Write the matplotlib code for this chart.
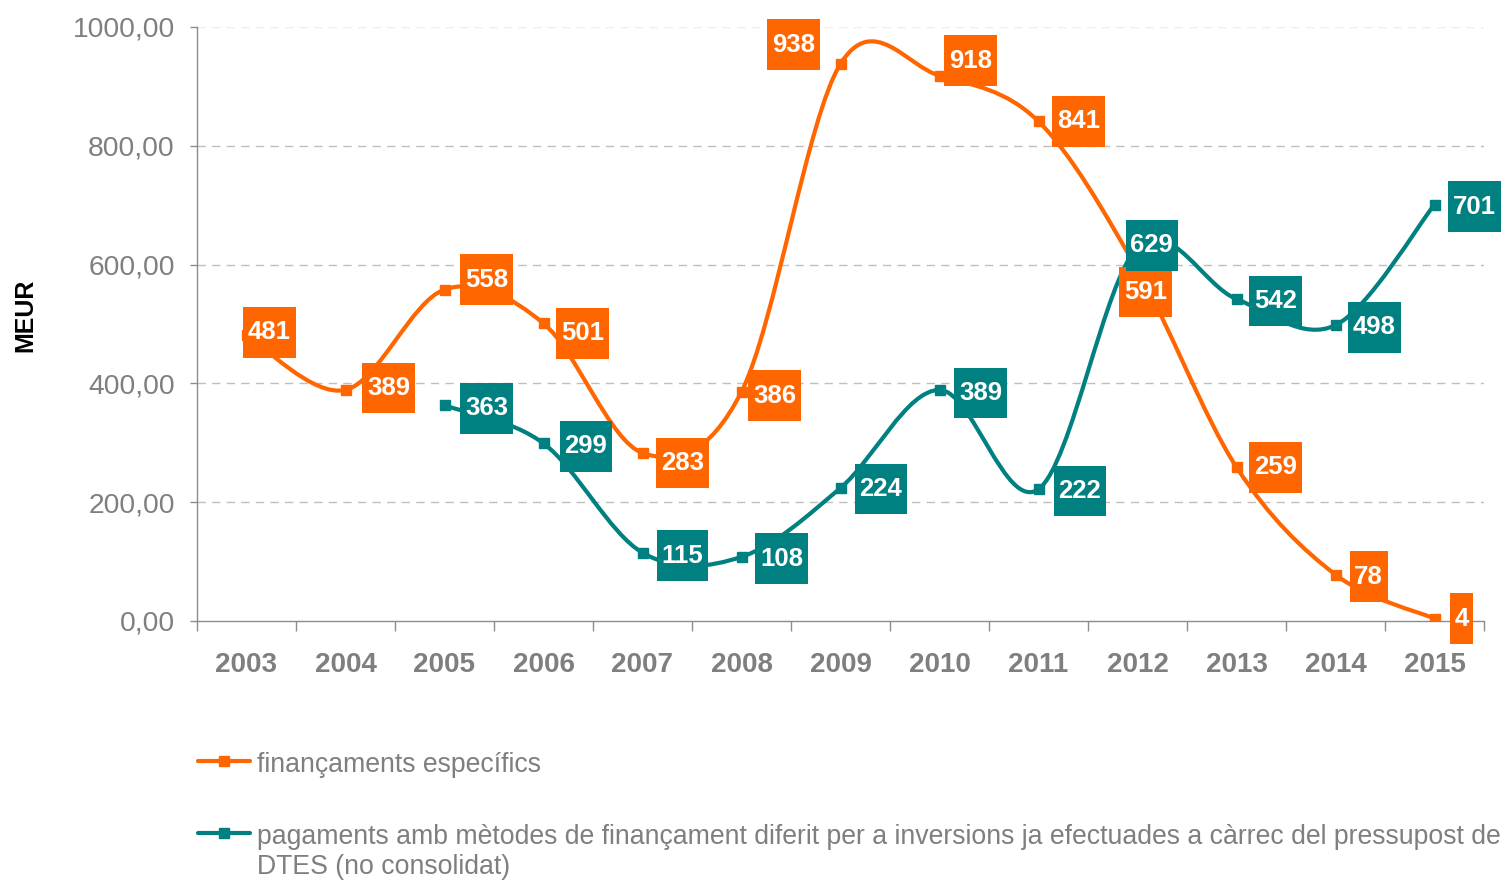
import matplotlib
matplotlib.use('Agg')
import matplotlib.pyplot as plt
from matplotlib.path import Path
from matplotlib.patches import PathPatch
from matplotlib.lines import Line2D

plt.rcParams['font.family'] = ['Liberation Sans', 'DejaVu Sans']

# ---------------- data ----------------
years = ['2003', '2004', '2005', '2006', '2007', '2008', '2009',
         '2010', '2011', '2012', '2013', '2014', '2015']
financaments_especifics = [481, 389, 558, 501, 283, 386, 938, 918, 841, 591, 259, 78, 4]
pagaments_diferits = [None, None, 363, 299, 115, 108, 224, 389, 222, 629, 542, 498, 701]
y_ticks = [0, 200, 400, 600, 800, 1000]
y_tick_labels = ['0,00', '200,00', '400,00', '600,00', '800,00', '1000,00']
label_fin = 'finançaments específics'
label_pag = ('pagaments amb mètodes de finançament diferit per a inversions ja efectuades a càrrec del pressupost de\n'
             'DTES (no consolidat)')
y_label = 'MEUR'

# ---------------- style ----------------
ORANGE = '#FF6600'
TEAL = '#008080'
GRAY = '#7F7F7F'
AXIS = '#8C8C8C'
GRID = '#BFBFBF'

# data-label offsets in pixels (dx right, dy down)
default_off = (40, -2)
off_fin = {0: (23, -3), 1: (43, -2), 2: (42, -10), 3: (39, 10), 4: (40, 10),
           5: (33, 4), 6: (-47, -19), 7: (31, -15), 8: (40, 0), 9: (8, 22),
           10: (39, 0), 11: (33, 2), 12: (27, 0)}
off_pag = {2: (42, 3), 3: (42, 3), 4: (40, 3), 5: (40, 2), 6: (40, 1), 7: (41, 3),
           8: (41, 2), 9: (14, -2), 10: (39, 2), 11: (39, 2), 12: (40, 2)}

W, H = 1505, 881
fig = plt.figure(figsize=(W / 100, H / 100), dpi=100)
ax = fig.add_axes([197 / W, 1 - 621 / H, (1484 - 197) / W, (621 - 27) / H])

n = len(years)
ax.set_xlim(-0.5, n - 0.5)
ax.set_ylim(0, 1000)


def smooth_path(xs, ys):
    """Excel-like smoothed line as cubic Bezier segments (Catmull-Rom control points)."""
    pts = list(zip(xs, ys))
    verts = [pts[0]]
    codes = [Path.MOVETO]
    for i in range(len(pts) - 1):
        p0 = pts[i - 1] if i > 0 else pts[i]
        p1 = pts[i]
        p2 = pts[i + 1]
        p3 = pts[i + 2] if i + 2 < len(pts) else pts[i + 1]
        c1 = (p1[0] + (p2[0] - p0[0]) / 6, p1[1] + (p2[1] - p0[1]) / 6)
        c2 = (p2[0] - (p3[0] - p1[0]) / 6, p2[1] - (p3[1] - p1[1]) / 6)
        verts += [c1, c2, p2]
        codes += [Path.CURVE4] * 3
    return Path(verts, codes)


def label_box(x0, y0, width, height, mutation_size):
    px = 0.18 * mutation_size
    py = 0.52 * mutation_size
    a, b = x0 - px, y0 - py
    c, d = x0 + width + px, y0 + height + py
    return Path([(a, b), (c, b), (c, d), (a, d), (a, b)], closed=True)


# grid
for v in y_ticks[1:]:
    ax.axhline(v, color='#EDEDED' if v == 1000 else GRID, lw=1.0,
               dashes=(6, 4.5), zorder=0)

for values, color, offs in [(financaments_especifics, ORANGE, off_fin),
                            (pagaments_diferits, TEAL, off_pag)]:
    idx = [i for i, v in enumerate(values) if v is not None]
    vals = [values[i] for i in idx]
    ax.add_patch(PathPatch(smooth_path(idx, vals), fill=False, edgecolor=color,
                           lw=3.0, capstyle='round', joinstyle='round', zorder=3))
    ax.plot(idx, vals, linestyle='none', marker='s', markersize=7,
            color=color, zorder=4)
    for i, v in zip(idx, vals):
        dx, dy = offs.get(i, default_off)
        ax.annotate(str(v), xy=(i, v), xytext=(dx * 0.72, -dy * 0.72),
                    textcoords='offset points', ha='center', va='center',
                    fontsize=18.5, fontweight='bold', color='white',
                    bbox=dict(boxstyle=label_box, fc=color, ec='none'),
                    zorder=6, annotation_clip=False)

# axes styling
for s in ['top', 'right']:
    ax.spines[s].set_visible(False)
for s in ['left', 'bottom']:
    ax.spines[s].set_color(AXIS)
    ax.spines[s].set_linewidth(1.0)

ax.set_yticks(y_ticks)
ax.set_yticklabels(y_tick_labels)
ax.tick_params(axis='y', length=5, width=1.0, color=AXIS, pad=11,
               labelsize=20.3, labelcolor=GRAY)

ax.set_xticks(range(n))
ax.set_xticklabels(years, fontweight='bold')
ax.tick_params(axis='x', which='major', length=0, pad=22,
               labelsize=20, labelcolor=GRAY)
ax.set_xticks([i - 0.5 for i in range(n + 1)], minor=True)
ax.tick_params(axis='x', which='minor', length=7, width=1.0, color=AXIS,
               direction='out')

fig.text(25 / W, 1 - 315 / H, y_label, rotation=90, ha='center', va='center',
         fontsize=18, fontweight='bold', color='black')

# legend (manual)
for ypx, color, text in [(761, ORANGE, label_fin), (833, TEAL, label_pag)]:
    yf = 1 - ypx / H
    fig.add_artist(Line2D([198 / W, 250 / W], [yf, yf], color=color, lw=3.0,
                          solid_capstyle='round', transform=fig.transFigure))
    fig.add_artist(Line2D([224 / W], [yf], color=color, marker='s', markersize=7,
                          linestyle='none', transform=fig.transFigure))
    fig.text(257 / W, 1 - (ypx - 9) / H, text, ha='left', va='top',
             fontsize=19.2, color=GRAY, linespacing=1.2)

fig.savefig('out.png', dpi=100)
